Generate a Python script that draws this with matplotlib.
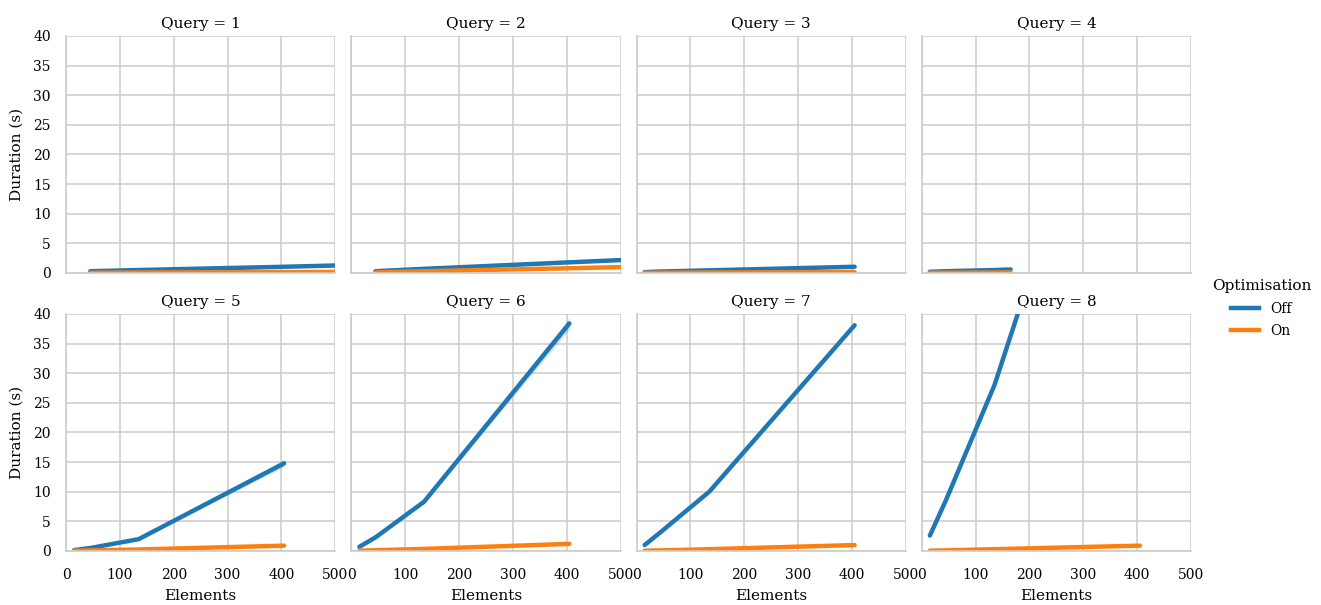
import matplotlib
matplotlib.use("Agg")
import matplotlib.pyplot as plt
from matplotlib.lines import Line2D

# 每个查询的元素数量与耗时（秒）
queries = [1, 2, 3, 4, 5, 6, 7, 8]
elements = {
    1: [45, 135, 405, 1215],
    2: [45, 135, 405, 1215],
    3: [15, 45, 135, 405],
    4: [15, 45, 135, 165],
    5: [15, 45, 135, 405],
    6: [15, 45, 135, 405],
    7: [15, 45, 135, 405],
    8: [15, 45, 135, 405],
}
duration_off = {
    1: [0.3, 0.5, 1.05, 2.9],
    2: [0.3, 0.7, 1.8, 5.0],
    3: [0.15, 0.25, 0.45, 1.05],
    4: [0.2, 0.3, 0.5, 0.6],
    5: [0.15, 0.5, 2.0, 14.8],
    6: [0.7, 2.3, 8.3, 38.4],
    7: [1.0, 3.2, 10.0, 38.1],
    8: [2.6, 8.6, 28.0, 103.0],
}
duration_on = {
    1: [0.05, 0.08, 0.15, 0.4],
    2: [0.1, 0.3, 0.8, 2.4],
    3: [0.03, 0.05, 0.08, 0.15],
    4: [0.03, 0.05, 0.08, 0.1],
    5: [0.05, 0.1, 0.25, 0.9],
    6: [0.05, 0.12, 0.35, 1.2],
    7: [0.05, 0.1, 0.3, 1.0],
    8: [0.05, 0.1, 0.3, 0.9],
}
# 置信区间半宽（只有少数几个明显可见）
ci_off = {
    5: [0.02, 0.05, 0.15, 0.6],
    6: [0.05, 0.1, 0.3, 1.0],
}

c_off = "#1f77b4"
c_on = "#ff7f0e"

plt.rcParams["font.family"] = ["DejaVu Serif"]
plt.rcParams["axes.edgecolor"] = "#cccccc"
plt.rcParams["grid.color"] = "#cccccc"

fig, axes = plt.subplots(2, 4, figsize=(13.21, 6.05), dpi=100, sharex=True, sharey=True)
fig.subplots_adjust(left=0.05, right=0.9016, top=0.9405, bottom=0.0893,
                    wspace=0.0595, hspace=0.173)

for i, q in enumerate(queries):
    ax = axes[i // 4][i % 4]
    x = elements[q]
    if q in ci_off:
        lo = [a - b for a, b in zip(duration_off[q], ci_off[q])]
        hi = [a + b for a, b in zip(duration_off[q], ci_off[q])]
        ax.fill_between(x, lo, hi, color=c_off, alpha=0.2, linewidth=0)
    ax.plot(x, duration_off[q], color=c_off, lw=3.2, solid_capstyle="round")
    ax.plot(x, duration_on[q], color=c_on, lw=3.2, solid_capstyle="round")
    ax.set_xlim(0, 500)
    ax.set_ylim(0, 40)
    ax.set_xticks(range(0, 501, 100))
    ax.set_yticks(range(0, 41, 5))
    ax.grid(True, lw=1.1)
    ax.set_axisbelow(True)
    for s in ["top", "right"]:
        ax.spines[s].set_visible(False)
    ax.spines["left"].set_linewidth(1.2)
    ax.spines["bottom"].set_linewidth(1.2)
    ax.tick_params(axis="x", length=0, pad=12, labelsize=10)
    ax.tick_params(axis="y", length=0, pad=11, labelsize=10)
    ax.set_title("Query = %d" % q, fontsize=11)
    if i % 4 == 0:
        ax.set_ylabel("Duration (s)", fontsize=11, labelpad=6.5)
    if i // 4 == 1:
        ax.set_xlabel("Elements", fontsize=11, labelpad=5.5)

handles = [Line2D([], [], color=c_off, lw=3.2), Line2D([], [], color=c_on, lw=3.2)]
leg = fig.legend(handles, ["Off", "On"], title="Optimisation", loc="center left",
                 bbox_to_anchor=(0.908, 0.49), frameon=False, fontsize=10,
                 title_fontsize=11, handlelength=2.0, labelspacing=0.6)

fig.savefig("out.png", dpi=100)
